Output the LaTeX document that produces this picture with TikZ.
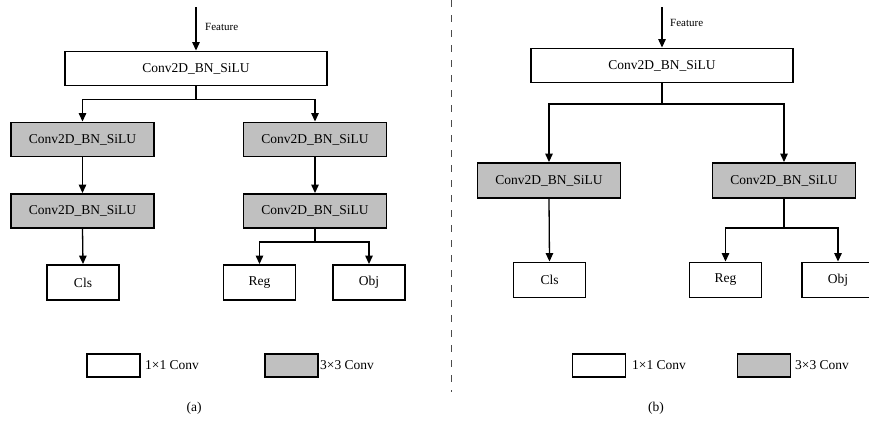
\documentclass[tikz,border=0pt]{standalone}
\usepackage{fontspec}
\setmainfont{Liberation Serif}
\usetikzlibrary{arrows.meta}
\definecolor{boxgray}{RGB}{192,192,192}
\tikzset{
  blk/.style={draw, line width=1.9pt, inner sep=0pt, font=\fontsize{13.5}{15}\selectfont},
  wbox/.style={blk, fill=white},
  gbox/.style={blk, fill=boxgray},
  wide/.style={minimum width=262pt, minimum height=34pt},
  mid/.style={minimum width=143pt, minimum height=34pt},
  small/.style={minimum width=72pt, minimum height=35pt},
  leg/.style={minimum width=53pt, minimum height=23pt},
  arr/.style={line width=1.3pt, -{Triangle[length=8.5pt,width=7.5pt]}},
  lbl/.style={inner sep=0pt, font=\fontsize{13.5}{15}\selectfont},
  feat/.style={inner sep=0pt, anchor=west, font=\fontsize{11}{12}\selectfont}
}
\begin{document}
\begin{tikzpicture}[x=1pt,y=-1pt]
\useasboundingbox (0,0) rectangle (869,421);
% ---------- panel (a)
\coordinate (fa) at (196,7);
\node[wbox,wide] (ta) at (196,68.5) {Conv2D\_BN\_SiLU};
\node[gbox,mid] (ga1) at (82.5,139.5) {Conv2D\_BN\_SiLU};
\node[gbox,mid] (gb1) at (315,139.5) {Conv2D\_BN\_SiLU};
\node[gbox,mid] (ga2) at (82.5,211) {Conv2D\_BN\_SiLU};
\node[gbox,mid] (gb2) at (315,211) {Conv2D\_BN\_SiLU};
\node[wbox,small] (clsa) at (83,282.5) {Cls};
\node[wbox,small] (rega) at (259.5,282.5) {Reg};
\node[wbox,small] (obja) at (369,282.5) {Obj};
\node[feat] (fta) at (205,27) {Feature};
\draw[arr] (fa) -- (ta.north);
\coordinate (ja) at (196,99.5);
\draw[arr] (ta.south) -- (ja) -| (ga1.north);
\draw[arr] (ja) -| (gb1.north);
\draw[arr] (ga1.south) -- (ga2.north);
\draw[arr] (gb1.south) -- (gb2.north);
\draw[arr] (ga2.south) -- (clsa.north);
\coordinate (jb) at (315,242);
\draw[arr] (gb2.south) -- (jb) -| (rega.north);
\draw[arr] (jb) -| (obja.north);
\node[wbox,leg] (lwa) at (113.5,365.5) {};
\node[lbl,anchor=west] (lwta) at (145,365.5) {1×1 Conv};
\node[gbox,leg] (lga) at (291.5,365.5) {};
\node[lbl,anchor=west] (lgta) at (320,365.5) {3×3 Conv};
\node[lbl] (capa) at (194,408) {(a)};
% ---------- divider
\coordinate (d1) at (451,0);
\coordinate (d2) at (451,392);
\draw[line width=0.8pt, dash pattern=on 7pt off 8pt, black!70] (d1) -- (d2);
% ---------- panel (b)
\coordinate (fb) at (662,7);
\node[wbox,wide] (tb) at (662,65.5) {Conv2D\_BN\_SiLU};
\node[gbox,mid,minimum height=35pt] (gl) at (549,180.5) {Conv2D\_BN\_SiLU};
\node[gbox,mid,minimum height=35pt] (gr) at (784,180.5) {Conv2D\_BN\_SiLU};
\node[wbox,small] (clsb) at (549.5,280) {Cls};
\node[wbox,small] (regb) at (725.5,280) {Reg};
\node[wbox,small] (objb) at (838,280) {Obj};
\node[feat] (ftb) at (670,23) {Feature};
\draw[arr] (fb) -- (tb.north);
\coordinate (jc) at (662,104);
\draw[arr] (tb.south) -- (jc) -| (gl.north);
\draw[arr] (jc) -| (gr.north);
\draw[arr] (gl.south) -- (clsb.north);
\coordinate (jd) at (784,228);
\draw[arr] (gr.south) -- (jd) -| (regb.north);
\draw[arr] (jd) -| (objb.north);
\node[wbox,leg] (lwb) at (599,365.5) {};
\node[lbl,anchor=west] (lwtb) at (632,365.5) {1×1 Conv};
\node[gbox,leg] (lgb) at (764,365.5) {};
\node[lbl,anchor=west] (lgtb) at (795,365.5) {3×3 Conv};
\node[lbl] (capb) at (656,408) {(b)};
\end{tikzpicture}
\end{document}
